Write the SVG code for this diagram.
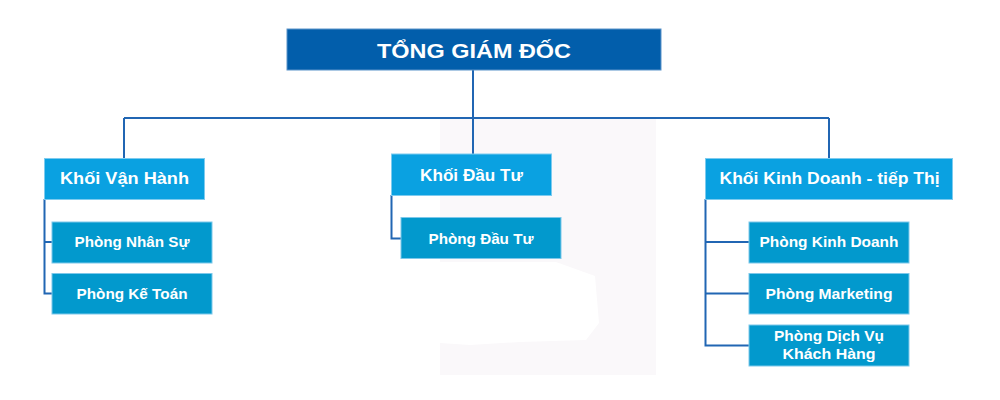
<svg xmlns="http://www.w3.org/2000/svg" width="1000" height="400" viewBox="0 0 1000 400">
  <style>
    .top { fill: #025eab; stroke: #5b93c9; stroke-width: 1; }
    .khoi { fill: #0aa1e1; stroke: #7dcbef; stroke-width: 1; }
    .phong { fill: #0299cd; stroke: #7dc8ea; stroke-width: 1; }
    text { font-family: "Liberation Sans", Arial, sans-serif; font-weight: bold; fill: #ffffff; text-anchor: middle; }
    .t-top { font-size: 20px; }
    .t-khoi { font-size: 16px; }
    .t-phong { font-size: 14.5px; }
    .conn { fill: none; stroke: #2166b3; stroke-width: 2; }
  </style>
  <rect width="1000" height="400" fill="#ffffff"/>
  <!-- faint background watermark -->
  <g id="watermark">
    <rect x="440" y="119" width="216" height="256" fill="#faf8fa"/>
    <path d="M440 262 L556 262 L595 276 L599 323 L586 340 L520 342 L470 345 L440 343 Z" fill="#ffffff"/>
  </g>
  <g id="connectors">
    <path class="conn" d="M473 70 V118 M124 118 H829 M124 118 V158 M473 118 V154 M829 118 V158"/>
    <path class="conn" d="M44.5 199 V293.5 H52 M44.5 242 H52"/>
    <path class="conn" d="M391.5 195 V238.5 H401"/>
    <path class="conn" d="M705.5 199 V345.5 H749 M705.5 242 H749 M705.5 293.5 H749"/>
  </g>
  <g id="tong-giam-doc">
    <rect class="top" x="287" y="29" width="374" height="41"/>
    <text class="t-top" x="474" y="58" textLength="194" lengthAdjust="spacingAndGlyphs">TỔNG GIÁM ĐỐC</text>
  </g>
  <g id="khoi-van-hanh">
    <rect class="khoi" x="44.5" y="158.5" width="160" height="41"/>
    <text class="t-khoi" x="124.5" y="184" textLength="129" lengthAdjust="spacingAndGlyphs">Khối Vận Hành</text>
  </g>
  <g id="phong-nhan-su">
    <rect class="phong" x="52" y="222" width="160" height="41"/>
    <text class="t-phong" x="132" y="247" textLength="115" lengthAdjust="spacingAndGlyphs">Phòng Nhân Sự</text>
  </g>
  <g id="phong-ke-toan">
    <rect class="phong" x="52" y="273.5" width="160" height="40.5"/>
    <text class="t-phong" x="132" y="298.5" textLength="111" lengthAdjust="spacingAndGlyphs">Phòng Kế Toán</text>
  </g>
  <g id="khoi-dau-tu">
    <rect class="khoi" x="391.5" y="154" width="160" height="41.5"/>
    <text class="t-khoi" x="471.5" y="181" textLength="103" lengthAdjust="spacingAndGlyphs">Khối Đầu Tư</text>
  </g>
  <g id="phong-dau-tu">
    <rect class="phong" x="401" y="217.5" width="160" height="41"/>
    <text class="t-phong" x="481" y="244" textLength="105" lengthAdjust="spacingAndGlyphs">Phòng Đầu Tư</text>
  </g>
  <g id="khoi-kinh-doanh">
    <rect class="khoi" x="705.5" y="158.5" width="247" height="41"/>
    <text class="t-khoi" x="829.5" y="184" textLength="220" lengthAdjust="spacingAndGlyphs">Khối Kinh Doanh - tiếp Thị</text>
  </g>
  <g id="phong-kinh-doanh">
    <rect class="phong" x="749" y="222" width="160" height="41"/>
    <text class="t-phong" x="829" y="247" textLength="139" lengthAdjust="spacingAndGlyphs">Phòng Kinh Doanh</text>
  </g>
  <g id="phong-marketing">
    <rect class="phong" x="749" y="273.5" width="160" height="40.5"/>
    <text class="t-phong" x="829" y="298.5" textLength="127" lengthAdjust="spacingAndGlyphs">Phòng Marketing</text>
  </g>
  <g id="phong-dich-vu">
    <rect class="phong" x="749" y="325" width="160" height="41"/>
    <text class="t-phong" x="829" y="341" textLength="110" lengthAdjust="spacingAndGlyphs">Phòng Dịch Vụ</text>
    <text class="t-phong" x="829" y="358.5" textLength="93" lengthAdjust="spacingAndGlyphs">Khách Hàng</text>
  </g>
</svg>
